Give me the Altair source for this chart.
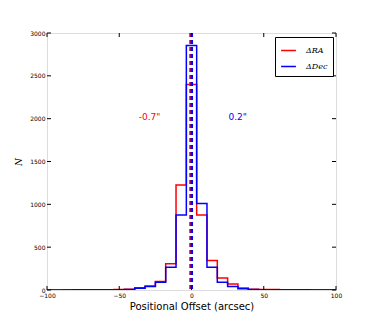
import altair as alt
import pandas as pd

# Histogram bin edges (arcsec) and counts
edges = [-103.57, -96.43, -89.29, -82.14, -75.0, -67.86, -60.71, -53.57, -46.43,
         -39.29, -32.14, -25.0, -17.86, -10.71, -3.57, 3.57, 10.71, 17.86, 25.0,
         32.14, 39.29, 46.43, 53.57, 60.71, 67.86, 75.0, 82.14, 89.29, 96.43, 103.57]
ra_counts = [1, 1, 2, 2, 3, 3, 4, 5, 9, 27, 47, 100, 305, 1225, 2400,
             875, 345, 140, 70, 22, 10, 6, 5, 4, 3, 3, 2, 2, 1]
dec_counts = [1, 1, 1, 2, 2, 3, 3, 4, 7, 19, 40, 90, 265, 875, 2855,
              1010, 265, 90, 40, 14, 6, 4, 3, 3, 2, 2, 1, 1, 1]
series_names = ["\u0394RA", "\u0394Dec"]
series_colors = ["#ff0000", "#0000ff"]
median_offsets = [-0.7, 0.2]
median_labels = ['-0.7"', '0.2"']
label_x = [-29, 32]
label_y = [2020, 2020]
x_ticks = [-100, -50, 0, 50, 100]
y_ticks = [0, 500, 1000, 1500, 2000, 2500, 3000]

W, H = 289, 257

rows = []
for name, counts in zip(series_names, [ra_counts, dec_counts]):
    for i, e in enumerate(edges):
        c = counts[i] if i < len(counts) else counts[-1]
        rows.append({"x": e, "n": c, "series": name, "order": i})
hist = pd.DataFrame(rows)

xs = alt.Scale(domain=[-100, 100], nice=False, zero=False)
ys = alt.Scale(domain=[0, 3000], nice=False)
cs = alt.Scale(domain=series_names, range=series_colors)

color = alt.Color(
    "series:N",
    scale=cs,
    sort=series_names,
    legend=alt.Legend(
        title=None, orient="none", legendX=228, legendY=4,
        symbolType="stroke", symbolSize=220, symbolStrokeWidth=1.5,
        strokeColor="black", fillColor="white", padding=5,
        labelFont="DejaVu Serif", labelFontStyle="italic", labelFontSize=8,
        labelColor="black", rowPadding=3, symbolOffset=0, labelOffset=9,
        cornerRadius=0,
    ),
)

lines = alt.Chart(hist).mark_line(interpolate="step-after", strokeWidth=1.5, clip=True).encode(
    x=alt.X("x:Q", scale=xs, axis=alt.Axis(
        values=x_ticks, title="Positional Offset (arcsec)", ticks=False, grid=False,
        format="d",
        labelFontSize=6, labelFont="DejaVu Sans", labelPadding=2, labelColor="black",
        titleFont="DejaVu Sans", titleFontSize=10, titleFontWeight="normal",
        titlePadding=3, titleColor="black", domain=False, labelFlush=False)),
    y=alt.Y("n:Q", scale=ys, axis=alt.Axis(
        values=y_ticks, title="N", ticks=False, grid=False, format="d",
        labelFontSize=6, labelFont="DejaVu Sans", labelPadding=2, labelColor="black",
        titleFont="DejaVu Serif", titleFontStyle="italic", titleFontSize=9,
        titleFontWeight="normal", titlePadding=6, titleColor="black", domain=False)),
    color=color,
    detail="series:N",
    order="order:Q",
)

med = pd.DataFrame({"x": median_offsets, "series": series_names})
medlines = alt.Chart(med).mark_rule(strokeWidth=2.5, strokeDash=[4, 3]).encode(
    x=alt.X("x:Q", scale=xs),
    color=alt.Color("series:N", scale=cs, legend=None),
)

lab = pd.DataFrame({"x": label_x, "y": label_y, "t": median_labels, "series": series_names})
labels = alt.Chart(lab).mark_text(font="DejaVu Sans", fontSize=9).encode(
    x=alt.X("x:Q", scale=xs),
    y=alt.Y("y:Q", scale=ys),
    text="t:N",
    color=alt.Color("series:N", scale=cs, legend=None),
)

xt = pd.DataFrame({"v": x_ticks})
yt = pd.DataFrame({"v": y_ticks})
tick_bottom = alt.Chart(xt).mark_rule(color="black", strokeWidth=1).encode(
    x=alt.X("v:Q", scale=xs), y=alt.value(H), y2=alt.value(H - 4))
tick_top = alt.Chart(xt).mark_rule(color="black", strokeWidth=1).encode(
    x=alt.X("v:Q", scale=xs), y=alt.value(0), y2=alt.value(4))
tick_left = alt.Chart(yt).mark_rule(color="black", strokeWidth=1).encode(
    y=alt.Y("v:Q", scale=ys), x=alt.value(0), x2=alt.value(4))
tick_right = alt.Chart(yt).mark_rule(color="black", strokeWidth=1).encode(
    y=alt.Y("v:Q", scale=ys), x=alt.value(W - 4), x2=alt.value(W))

chart = alt.layer(
    lines, medlines, labels, tick_bottom, tick_top, tick_left, tick_right
).properties(
    width=W, height=H,
    autosize=alt.AutoSizeParams(type="none"),
    padding={"left": 39, "top": 25, "right": 30, "bottom": 34},
).configure_view(stroke="black", strokeWidth=1).configure(background="white")

chart.save("out.html", embed_options={"renderer": "svg", "actions": False})
